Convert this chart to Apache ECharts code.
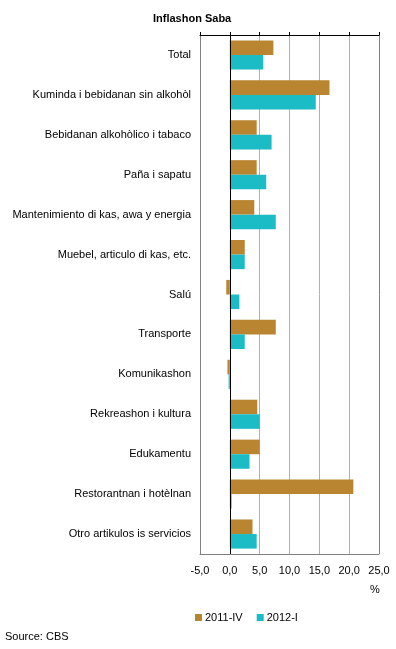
<!DOCTYPE html>
<html>
<head>
<meta charset="utf-8">
<script src="https://cdn.jsdelivr.net/npm/echarts@6/dist/echarts.min.js"></script>
<style>
  html, body { margin: 0; padding: 0; background: #fff; }
  #chart { width: 396px; height: 649px; }
</style>
</head>
<body>
<div id="chart"></div>
<script>
// Data
const categories = [
    'Total',
    'Kuminda i bebidanan sin alkohòl',
    'Bebidanan alkohòlico i tabaco',
    'Paña i sapatu',
    'Mantenimiento di kas, awa y energia',
    'Muebel, articulo di kas, etc.',
    'Salú',
    'Transporte',
    'Komunikashon',
    'Rekreashon i kultura',
    'Edukamentu',
    'Restorantnan i hotèlnan',
    'Otro artikulos is servicios'
];
const values2011IV = [7.3, 16.7, 4.5, 4.5, 4.1, 2.5, -0.6, 7.7, -0.4, 4.6, 5.0, 20.7, 3.8];
const values2012I = [5.6, 14.4, 7.0, 6.1, 7.7, 2.5, 1.6, 2.5, -0.2, 5.0, 3.3, 0.3, 4.5];
const seriesNames = ['2011-IV', '2012-I'];
const xTicks = [-5, 0, 5, 10, 15, 20, 25];

const FONT = 'Liberation Sans, Arial, sans-serif';
const BROWN = '#B98531';
const CYAN = '#1CBCC6';

const chart = echarts.init(document.getElementById('chart'));

// one colour per gridline, edges darker, zero black
const gridColors = xTicks.map((t, i) => {
    if (t === 0) return '#000000';
    if (i === 0 || i === xTicks.length - 1) return '#808080';
    return '#B0B0B0';
});

chart.setOption({
    animation: false,
    textStyle: { fontFamily: FONT },
    title: {
        text: 'Inflashon Saba',
        left: 148,
        top: 8,
        textStyle: { fontFamily: FONT, fontSize: 11, fontWeight: 'bold', color: '#000' }
    },
    legend: {
        data: seriesNames,
        left: 190,
        top: 607,
        icon: 'rect',
        itemWidth: 7,
        itemHeight: 7,
        itemGap: 14,
        textStyle: { fontFamily: FONT, fontSize: 11, color: '#000', padding: [0, 0, 0, -2] }
    },
    grid: { left: 200, right: 17, top: 35, bottom: 95 },
    xAxis: [{
        type: 'value',
        position: 'bottom',
        min: xTicks[0],
        max: xTicks[xTicks.length - 1],
        interval: 5,
        axisLine: { show: true, lineStyle: { color: '#808080', width: 1 } },
        axisTick: { show: false },
        axisLabel: {
            margin: 11,
            fontFamily: FONT,
            fontSize: 11,
            color: '#000',
            formatter: v => v.toFixed(1).replace('.', ',')
        },
        splitLine: { show: true, lineStyle: { color: gridColors, width: 1 } }
    }, {
        type: 'value',
        position: 'top',
        min: xTicks[0],
        max: xTicks[xTicks.length - 1],
        interval: 5,
        axisLine: { show: true, lineStyle: { color: '#000', width: 1 } },
        axisTick: { show: true, inside: false, length: 3, lineStyle: { color: '#000' } },
        axisLabel: { show: false },
        splitLine: { show: false }
    }],
    yAxis: {
        type: 'category',
        data: categories,
        inverse: true,
        axisLine: { show: true, onZero: false, lineStyle: { color: '#808080' } },
        axisTick: { show: false },
        axisLabel: { margin: 9, fontFamily: FONT, fontSize: 11, color: '#000' },
        splitLine: { show: false }
    },
    series: [{
        name: seriesNames[0],
        type: 'bar',
        data: values2011IV,
        itemStyle: { color: BROWN },
        barGap: '0%',
        barCategoryGap: '27%'
    }, {
        name: seriesNames[1],
        type: 'bar',
        data: values2012I,
        itemStyle: { color: CYAN },
        barGap: '0%',
        barCategoryGap: '27%',
        markLine: {
            silent: true,
            symbol: 'none',
            label: { show: false },
            lineStyle: { color: '#000', type: 'solid', width: 1 },
            data: [{ xAxis: 0 }]
        }
    }],
    graphic: [{
        type: 'text',
        left: 370,
        top: 584,
        style: { text: '%', font: '11px ' + FONT, fill: '#000' }
    }, {
        type: 'text',
        left: 5,
        top: 631,
        style: { text: 'Source: CBS', font: '11px ' + FONT, fill: '#000' }
    }]
});
</script>
</body>
</html>
